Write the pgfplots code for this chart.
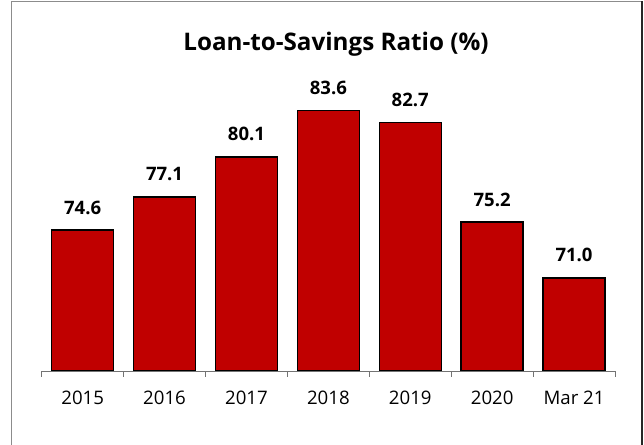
\documentclass[border=0pt]{standalone}
\usepackage{pgfplots}
\pgfplotsset{compat=1.18}
\usepackage{fontspec}
\setmainfont{Open Sans}
\definecolor{barred}{HTML}{C00000}
\definecolor{framegray}{HTML}{8C8C8C}
\begin{document}
\begin{tikzpicture}
\path[use as bounding box] (0,0) rectangle (644bp,445bp);
\fill[white] (0,0) rectangle (644bp,445bp);
% chart frame (bottom edge falls outside the picture)
\draw[framegray, line width=1bp] (11.7bp,0) -- (11.7bp,443bp) -- (642bp,443bp);
\draw[black!85, line width=1.3bp] (642bp,443.5bp) -- (642bp,0);
\node[anchor=base, font=\fontsize{24.3}{28}\selectfont\bfseries] at (336bp,394.3bp) {Loan-to-Savings Ratio (\%)};
\begin{axis}[
  at={(41.7bp,74bp)}, anchor=south west, scale only axis,
  width=573.3bp, height=292.6bp,
  xmin=-0.5, xmax=6.5, ymin=64, ymax=86,
  ybar, bar width=62bp,
  axis x line*=bottom, axis y line=none,
  x axis line style={-, draw=black!55, line width=0.8bp},
  xtick={0,...,6},
  xticklabels={2015,2016,2017,2018,2019,2020,Mar 21},
  major tick length=0pt,
  minor xtick={-0.5,0.5,...,6.5}, minor tick length=6bp, tick align=outside,
  minor tick style={draw=black!55, line width=0.8bp},
  xticklabel style={font=\fontsize{18.7}{22}\selectfont, anchor=north, inner sep=0pt, yshift=-19.7bp},
  nodes near coords={\pgfmathprintnumber[fixed,fixed zerofill,precision=1,assume math mode=true]{\pgfplotspointmeta}},
  nodes near coords style={font=\fontsize{18.6}{22}\selectfont\bfseries, anchor=south, inner sep=0pt, yshift=15bp, text=black},
]
\addplot[fill=barred, draw=black, line width=1.5bp] coordinates {
(0,74.6) (1,77.1) (2,80.1) (3,83.6) (4,82.7) (5,75.2) (6,71.0)
};
\end{axis}
\end{tikzpicture}
\end{document}
